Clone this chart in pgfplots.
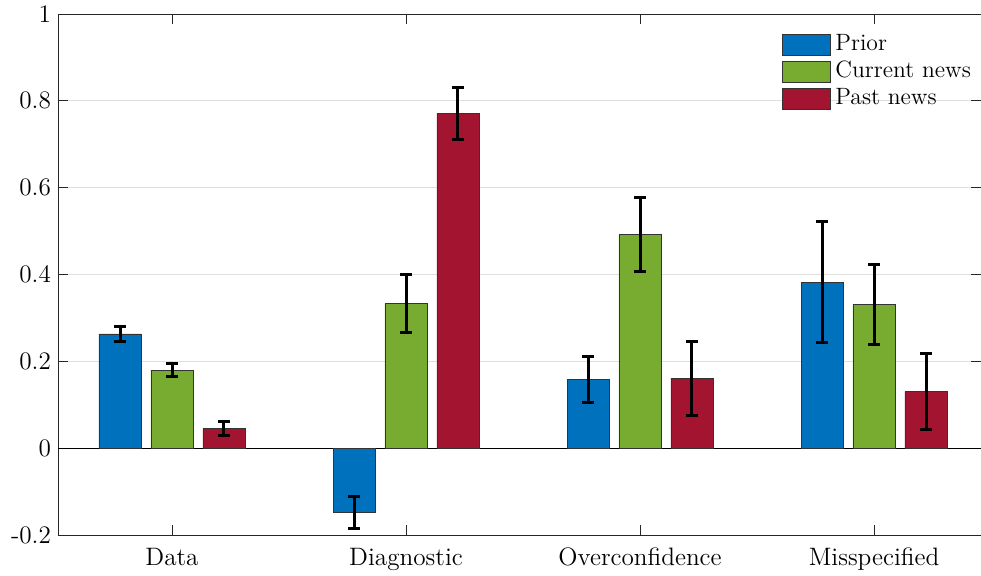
\documentclass[border=0pt]{standalone}
\usepackage{pgfplots}
\pgfplotsset{compat=1.18}
\definecolor{mblue}{rgb}{0,0.447,0.741}
\definecolor{mgreen}{rgb}{0.466,0.674,0.188}
\definecolor{mred}{rgb}{0.635,0.078,0.184}
\definecolor{axgray}{HTML}{262626}
\begin{document}
\begin{tikzpicture}
\begin{axis}[
  scale only axis,
  width=461.5pt, height=260.5pt,
  xmin=0.5128, xmax=4.457,
  ymin=-0.2, ymax=1,
  xtick={1,2,3,4},
  xticklabels={Data,Diagnostic,Overconfidence,Misspecified},
  ytick={-0.2,0,0.2,0.4,0.6,0.8,1},
  yticklabels={-0.2,0,0.2,0.4,0.6,0.8,1},
  major tick length=5pt,
  tick style={axgray, thin},
  axis line style={axgray, thin},
  ymajorgrids,
  major grid style={gray!25, thin},
  extra y ticks={0},
  extra y tick labels={},
  extra y tick style={grid=major, major grid style={black, thin}, tick style={draw=none}},
  tick label style={font=\fontsize{12.6}{14}\selectfont},
  xticklabel style={yshift=-3pt},
  ybar,
  bar width=0.18,
  legend style={at={(rel axis cs:0.777,0.975)}, anchor=north west, draw=none, fill=none,
    font=\fontsize{11.8}{13}\selectfont, row sep=0.6pt, column sep=1.5pt,
    nodes={inner sep=1pt, text height=8.5pt, text depth=2.5pt}},
  legend image code/.code={\draw[#1, draw=black!80] (0pt,-5.25pt) rectangle (24pt,5.25pt);},
  legend cell align=left,
  error bars/y dir=both,
  error bars/y explicit,
  error bars/error bar style={black, line width=1.5pt},
  error bars/error mark options={black, line width=1.5pt, mark size=3pt, rotate=90},
  xtick align=inside, ytick align=inside,
]
\addplot[fill=mblue, draw=black!80, bar shift=-0.222] coordinates {
  (1,0.263) +- (0,0.017)
  (2,-0.148) +- (0,0.037)
  (3,0.158) +- (0,0.052)
  (4,0.382) +- (0,0.139)
};
\addplot[fill=mgreen, draw=black!80, bar shift=0] coordinates {
  (1,0.180) +- (0,0.015)
  (2,0.333) +- (0,0.066)
  (3,0.492) +- (0,0.085)
  (4,0.331) +- (0,0.092)
};
\addplot[fill=mred, draw=black!80, bar shift=0.222] coordinates {
  (1,0.045) +- (0,0.016)
  (2,0.771) +- (0,0.060)
  (3,0.161) +- (0,0.085)
  (4,0.131) +- (0,0.087)
};
\legend{Prior,Current news,Past news}
\end{axis}
\pgfresetboundingbox
\path[use as bounding box] (-29pt,-20.5pt) rectangle (461.5pt,267.5pt);
\end{tikzpicture}
\end{document}
